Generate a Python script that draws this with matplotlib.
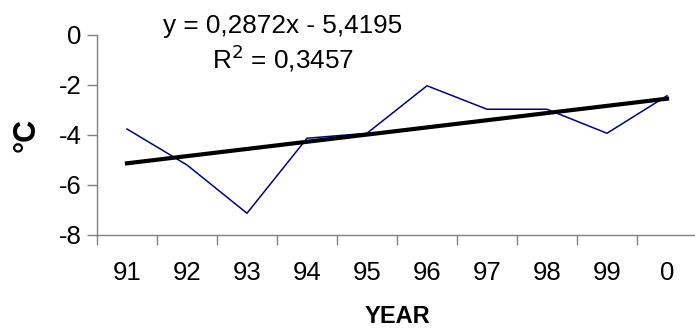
import matplotlib
matplotlib.use("Agg")
import matplotlib.pyplot as plt
import numpy as np

plt.rcParams['font.family'] = ['Liberation Sans', 'DejaVu Sans']

years = ["91", "92", "93", "94", "95", "96", "97", "98", "99", "0"]
temps = [-3.76, -5.2, -7.13, -4.13, -3.93, -2.03, -2.97, -2.97, -3.93, -2.43]
slope = 0.2872
intercept = -5.4195
r_squared = 0.3457
y_ticks = [-8, -6, -4, -2, 0]

fig = plt.figure(figsize=(6.95, 3.31), dpi=100)
ax = fig.add_axes([97 / 695, 96 / 331, 600 / 695, 200 / 331])

x = np.arange(len(years))
ax.plot(x, temps, color="#000080", lw=1.1, zorder=2)
idx = np.arange(1, len(years) + 1)
ax.plot(x, slope * idx + intercept, color="black", lw=3.0, zorder=3)

ax.set_xlim(-0.5, len(years) - 0.5)
ax.set_ylim(-8, 0)
ax.set_yticks(y_ticks)
ax.set_yticklabels([str(v) for v in y_ticks])
ax.set_xticks(x)
ax.set_xticklabels(years)
ax.set_xticks(np.arange(-0.5, len(years) - 0.5, 1.0), minor=True)

for s in ["top", "right"]:
    ax.spines[s].set_visible(False)
for s in ["left", "bottom"]:
    ax.spines[s].set_color("#808080")
    ax.spines[s].set_linewidth(1.0)
    ax.spines[s].set_zorder(1)

ax.tick_params(axis="y", direction="out", length=7, width=1.0, color="#808080",
               labelsize=18.5, pad=4)
ax.tick_params(axis="x", which="major", length=0, labelsize=18.5, pad=19)
ax.tick_params(axis="x", which="minor", direction="out", length=7, width=1.0,
               color="#808080")

ax.set_xlabel("YEAR", fontsize=17, fontweight="bold")
ax.xaxis.set_label_coords(0.5, -0.35)
ax.set_ylabel("°C", fontsize=22, fontweight="bold")
ax.yaxis.set_label_coords(-0.092, 0.5)

eq = f"y = {slope:.4f}x - {abs(intercept):.4f}".replace(".", ",")
r2 = f"R$^2$ = {r_squared:.4f}".replace(".", ",")
fig.text(283 / 695, 1 - 33 / 331, eq, fontsize=18.8, ha="center", va="baseline")
fig.text(283 / 695, 1 - 68 / 331, r2, fontsize=18.8, ha="center", va="baseline")

fig.savefig("out.png", dpi=100)
